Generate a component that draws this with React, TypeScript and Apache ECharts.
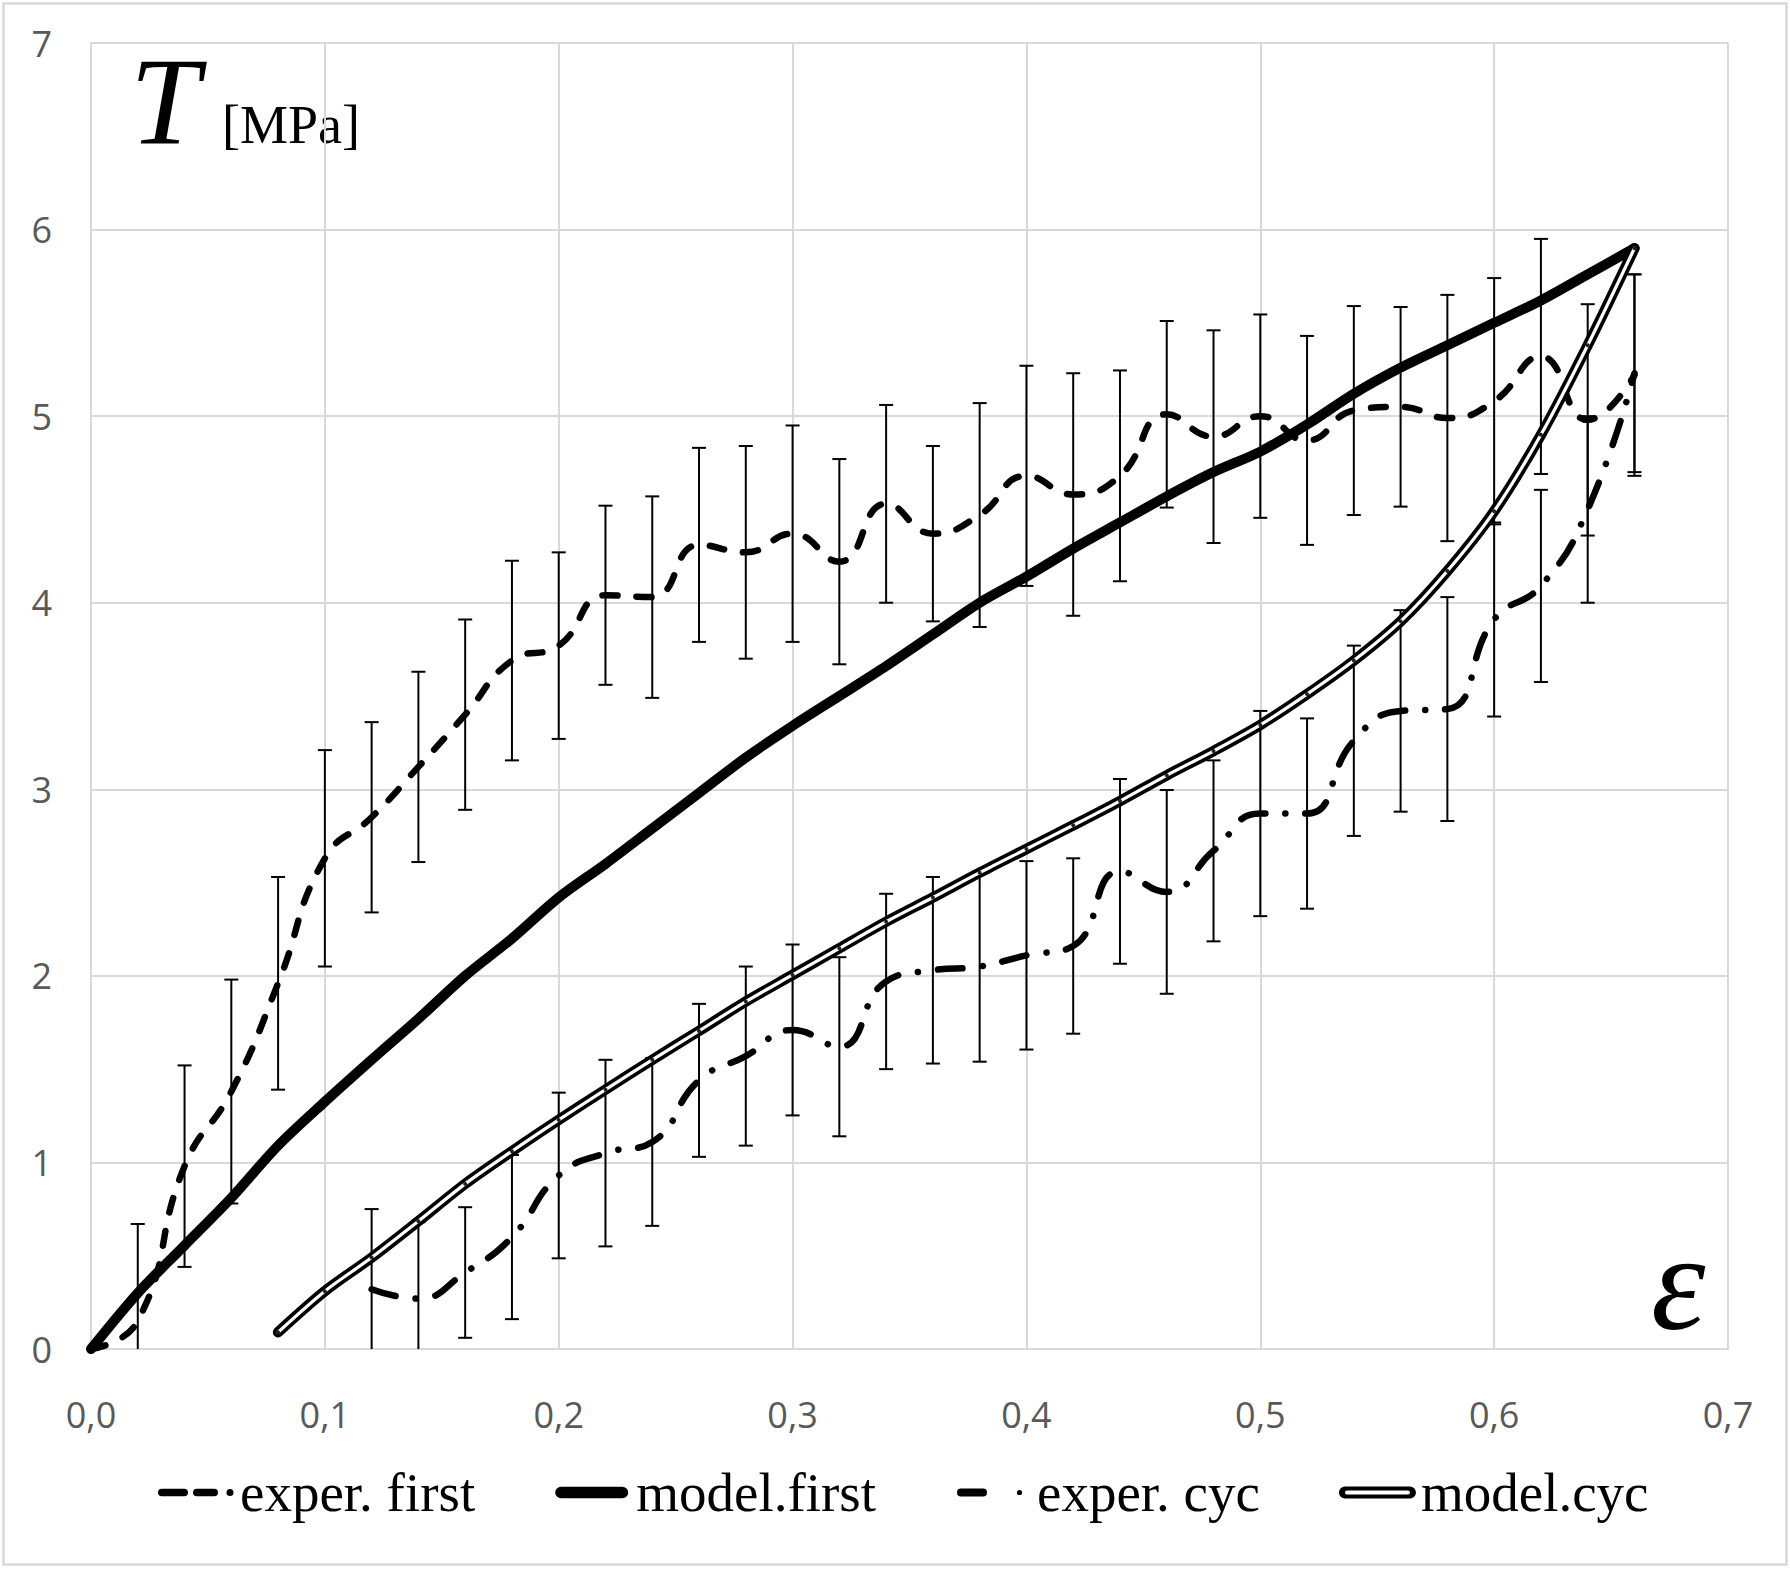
import React, { useEffect, useRef } from "react";
import * as echarts from "echarts";

// ---------- data ----------
const seriesNames = ["exper. first", "model.first", "exper. cyc", "model.cyc"];

const xTickLabels = ["0,0", "0,1", "0,2", "0,3", "0,4", "0,5", "0,6", "0,7"];
const yTickLabels = ["0", "1", "2", "3", "4", "5", "6", "7"];

const xFirst = [0, 0.02, 0.04, 0.06, 0.08, 0.1, 0.12, 0.14, 0.16, 0.18, 0.2, 0.22, 0.24, 0.26, 0.28, 0.3, 0.32, 0.34, 0.36, 0.38, 0.4, 0.42, 0.44, 0.46, 0.48, 0.5, 0.52, 0.54, 0.56, 0.58, 0.6, 0.62, 0.64, 0.66];
const experFirst = [0, 0.15, 0.98, 1.38, 1.96, 2.63, 2.85, 3.12, 3.4, 3.69, 3.77, 4.04, 4.03, 4.31, 4.27, 4.37, 4.22, 4.53, 4.37, 4.47, 4.68, 4.58, 4.68, 5.01, 4.89, 5.0, 4.87, 5.03, 5.05, 4.99, 5.08, 5.32, 4.98, 5.22];
const experFirstErr = [0, 0.52, 0.54, 0.6, 0.57, 0.58, 0.51, 0.51, 0.51, 0.535, 0.5, 0.48, 0.54, 0.52, 0.57, 0.58, 0.55, 0.53, 0.47, 0.6, 0.59, 0.65, 0.565, 0.5, 0.57, 0.545, 0.56, 0.56, 0.535, 0.66, 0.66, 0.63, 0.62, 0.54];
const modelFirst = [0, 0.3, 0.555, 0.81, 1.09, 1.325, 1.55, 1.77, 2.0, 2.2, 2.42, 2.6, 2.79, 2.98, 3.17, 3.34, 3.5, 3.66, 3.83, 4.0, 4.14, 4.29, 4.43, 4.57, 4.7, 4.81, 4.955, 5.12, 5.26, 5.38, 5.5, 5.62, 5.76, 5.9];

const xCycExp = [0.12, 0.14, 0.16, 0.18, 0.2, 0.22, 0.24, 0.26, 0.28, 0.3, 0.32, 0.34, 0.36, 0.38, 0.4, 0.42, 0.44, 0.46, 0.48, 0.5, 0.52, 0.54, 0.56, 0.58, 0.6, 0.62, 0.64, 0.66];
const experCyc = [0.32, 0.27, 0.41, 0.6, 0.93, 1.05, 1.11, 1.44, 1.57, 1.71, 1.62, 1.97, 2.03, 2.05, 2.11, 2.16, 2.56, 2.45, 2.67, 2.87, 2.87, 3.26, 3.42, 3.43, 3.91, 4.09, 4.5, 5.23];
const experCycErr = [0.43, 0.41, 0.35, 0.44, 0.444, 0.5, 0.45, 0.41, 0.48, 0.458, 0.48, 0.47, 0.5, 0.51, 0.505, 0.47, 0.495, 0.546, 0.485, 0.55, 0.51, 0.51, 0.54, 0.6, 0.52, 0.515, 0.5, 0.53];

const xCycModel = [0.08, 0.1, 0.12, 0.14, 0.16, 0.18, 0.2, 0.22, 0.24, 0.26, 0.28, 0.3, 0.32, 0.34, 0.36, 0.38, 0.4, 0.42, 0.44, 0.46, 0.48, 0.5, 0.52, 0.54, 0.56, 0.58, 0.6, 0.62, 0.64, 0.66];
const modelCyc = [0.09, 0.31, 0.49, 0.685, 0.885, 1.06, 1.228, 1.39, 1.55, 1.705, 1.862, 2.005, 2.148, 2.29, 2.42, 2.553, 2.68, 2.807, 2.937, 3.075, 3.205, 3.345, 3.51, 3.69, 3.9, 4.17, 4.49, 4.9, 5.38, 5.9];

// ---------- helpers ----------
const pairs = (xs: number[], ys: number[]) => xs.map((x, i) => [x, ys[i]]);
const errData = (xs: number[], ys: number[], es: number[]) =>
  xs.map((x, i) => [x, ys[i] - es[i], ys[i] + es[i], es[i]]);

const stadium = (x0: number, x1: number, yc: number, r: number) =>
  `M${x0 + r} ${yc - r}L${x1 - r} ${yc - r}A${r} ${r} 0 0 1 ${x1 - r} ${yc + r}L${x0 + r} ${yc + r}A${r} ${r} 0 0 1 ${x0 + r} ${yc - r}Z`;
const stadiumRev = (x0: number, x1: number, yc: number, r: number) =>
  `M${x0 + r} ${yc - r}A${r} ${r} 0 0 0 ${x0 + r} ${yc + r}L${x1 - r} ${yc + r}A${r} ${r} 0 0 0 ${x1 - r} ${yc - r}Z`;
const dot = (cx: number, cy: number, r: number) =>
  `M${cx - r} ${cy}A${r} ${r} 0 1 1 ${cx + r} ${cy}A${r} ${r} 0 1 1 ${cx - r} ${cy}Z`;
const specks = "M0 0L0.01 0L0.01 0.01ZM78 12L77.99 12L77.99 11.99Z";

const iconExpFirst = "path://" + specks + stadium(1, 31, 6, 3.8) + stadium(36, 61, 6, 3.8) + dot(73, 6, 3.5);
const iconModelFirst = "path://" + specks + stadium(2, 75, 6, 5.8);
const iconExpCyc = "path://" + specks + stadium(3, 33, 6, 4) + dot(65.5, 6, 2.6);
const iconModelCyc = "path://" + specks + stadium(1, 78, 6, 6) + stadiumRev(7, 72, 6, 2);

const errorRender = (params: any, api: any) => {
  const x = api.value(0);
  const lo = api.value(1);
  const hi = api.value(2);
  const e = api.value(3);
  if (!e) return null;
  const pLo = api.coord([x, lo]);
  const pHi = api.coord([x, hi]);
  const cap = 7;
  const style = { stroke: "#000", lineWidth: 2 };
  return {
    type: "group",
    children: [
      { type: "line", shape: { x1: pLo[0], y1: pLo[1], x2: pHi[0], y2: pHi[1] }, style },
      { type: "line", shape: { x1: pHi[0] - cap, y1: pHi[1], x2: pHi[0] + cap, y2: pHi[1] }, style },
      { type: "line", shape: { x1: pLo[0] - cap, y1: pLo[1], x2: pLo[0] + cap, y2: pLo[1] }, style },
    ],
  };
};

export default function App() {
  const ref = useRef<HTMLDivElement>(null);

  useEffect(() => {
    if (!ref.current) return;
    const chart = echarts.init(ref.current, null, { renderer: "svg" });
    const grey = "#d9d9d9";
    const option: any = {
      animation: false,
      backgroundColor: "#ffffff",
      grid: { left: 91, top: 43, right: 62, bottom: 220, containLabel: false },
      xAxis: {
        type: "value",
        min: 0,
        max: 0.7,
        interval: 0.1,
        axisLine: { show: true, lineStyle: { color: grey, width: 2 } },
        axisTick: { show: false },
        splitLine: { show: true, lineStyle: { color: grey, width: 2 } },
        axisLabel: {
          margin: 47,
          color: "#595959",
          fontFamily: "Open Sans",
          fontSize: 36,
          formatter: (v: number) => xTickLabels[Math.round(v * 10)],
        },
      },
      yAxis: {
        type: "value",
        min: 0,
        max: 7,
        interval: 1,
        axisLine: { show: true, lineStyle: { color: grey, width: 2 } },
        axisTick: { show: false },
        splitLine: { show: true, lineStyle: { color: grey, width: 2 } },
        axisLabel: {
          margin: 39,
          color: "#595959",
          fontFamily: "Open Sans",
          fontSize: 36,
          padding: [0, 0, 7, 0],
          formatter: (v: number) => yTickLabels[Math.round(v)],
        },
      },
      legend: {
        left: 152,
        top: 1460,
        orient: "horizontal",
        itemWidth: 78,
        itemHeight: 12,
        itemGap: 78,
        selectedMode: false,
        itemStyle: { color: "#000", borderWidth: 0 },
        textStyle: { fontFamily: "Liberation Serif", fontSize: 55, color: "#000" },
        data: [
          { name: seriesNames[0], icon: iconExpFirst },
          { name: seriesNames[1], icon: iconModelFirst },
          { name: seriesNames[2], icon: iconExpCyc },
          { name: seriesNames[3], icon: iconModelCyc },
        ],
      },
      graphic: [
        {
          type: "rect",
          shape: { x: 3.5, y: 3.5, width: 1783, height: 1561 },
          style: { fill: "none", stroke: grey, lineWidth: 2.5 },
          silent: true,
        },
        {
          type: "text",
          x: 130,
          y: 102,
          style: { text: "T", font: 'italic 125px "Liberation Serif"', fill: "#000", align: "left", verticalAlign: "middle" },
        },
        {
          type: "text",
          x: 222,
          y: 125,
          style: { text: "[MPa]", font: '54px "Liberation Serif"', fill: "#000", align: "left", verticalAlign: "middle" },
        },
        {
          type: "text",
          x: 1651,
          y: 1282,
          style: { text: "ε", font: 'italic 138px "Liberation Serif"', fill: "#000", align: "left", verticalAlign: "middle" },
        },
      ],
      series: [
        {
          name: "exper. first error",
          type: "custom",
          renderItem: errorRender,
          clip: true,
          encode: { x: 0, y: [1, 2] },
          data: errData(xFirst, experFirst, experFirstErr),
          z: 2,
        },
        {
          name: seriesNames[0],
          type: "line",
          data: pairs(xFirst, experFirst),
          smooth: 0.5,
          showSymbol: false,
          symbol: "none",
          color: "#000",
          lineStyle: { color: "#000", width: 6.5, type: [15, 19], cap: "round", join: "round" },
          z: 3,
        },
        {
          name: seriesNames[1],
          type: "line",
          data: pairs(xFirst, modelFirst),
          smooth: 0.3,
          showSymbol: false,
          symbol: "none",
          color: "#000",
          lineStyle: { color: "#000", width: 10, cap: "round", join: "round" },
          z: 4,
        },
        {
          name: "exper. cyc error",
          type: "custom",
          renderItem: errorRender,
          clip: true,
          encode: { x: 0, y: [1, 2] },
          data: errData(xCycExp, experCyc, experCycErr),
          z: 5,
        },
        {
          name: seriesNames[2],
          type: "line",
          data: pairs(xCycExp, experCyc),
          smooth: 0.5,
          showSymbol: false,
          symbol: "none",
          color: "#000",
          lineStyle: { color: "#000", width: 6.5, type: [25, 20, 0.1, 20], cap: "round", join: "round" },
          z: 6,
        },
        {
          name: seriesNames[3],
          type: "line",
          data: pairs(xCycModel, modelCyc),
          smooth: 0.3,
          showSymbol: false,
          symbol: "none",
          color: "#000",
          lineStyle: { color: "#000", width: 10.5, cap: "round", join: "round" },
          z: 7,
        },
        {
          name: seriesNames[3],
          type: "line",
          data: pairs(xCycModel, modelCyc),
          smooth: 0.3,
          showSymbol: true,
          symbol: "circle",
          symbolSize: 4,
          itemStyle: { color: "#222", borderWidth: 0 },
          color: "#000",
          lineStyle: { color: "#fff", width: 3.2, cap: "round", join: "round" },
          z: 8,
        },
      ],
    };
    chart.setOption(option);
    return () => chart.dispose();
  }, []);

  return (
    <div
      ref={ref}
      style={{ position: "absolute", left: 0, top: 0, width: 1790, height: 1569, background: "#fff" }}
    />
  );
}
